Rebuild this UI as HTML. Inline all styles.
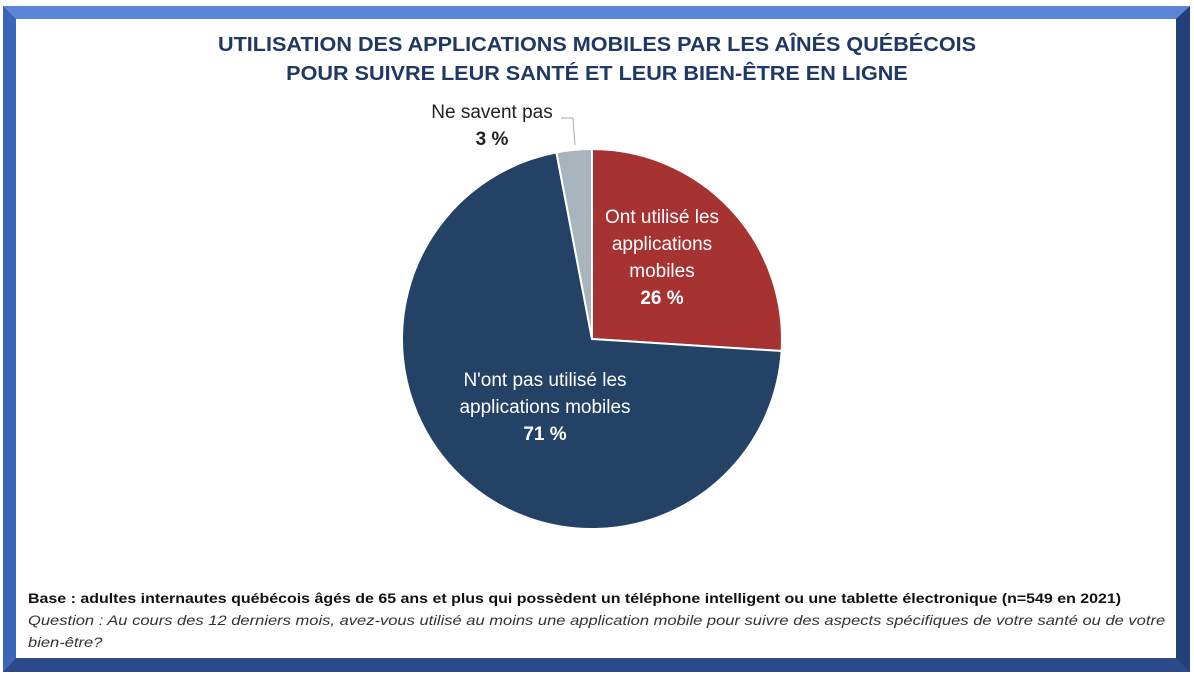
<!DOCTYPE html>
<html><head><meta charset="utf-8"><style>
body{margin:0;width:1194px;height:678px;background:#fff;position:relative;overflow:hidden;font-family:"Liberation Sans",sans-serif}
.frame{position:absolute;left:3px;top:6px;width:1160px;height:639px;border-style:solid;border-width:13px 14px 14px 13px;border-color:#5b86d6 #24407a #2a4a8a #3d66b8}
.t{position:absolute;left:0;width:1194px;text-align:center;font-weight:bold;color:#1f3864;font-size:20px;transform:scaleX(1.08)}
.f{position:absolute;left:28px;font-size:14px;color:#111;white-space:nowrap;transform-origin:0 0}
.l{position:absolute;text-align:center;font-size:19px;line-height:27px}
</style></head><body>
<div class="frame"></div>
<div class="t" style="top:34px">UTILISATION DES APPLICATIONS MOBILES PAR LES AÎNÉS QUÉBÉCOIS</div>
<div class="t" style="top:63px">POUR SUIVRE LEUR SANTÉ ET LEUR BIEN-ÊTRE EN LIGNE</div>
<svg width="1194" height="678" style="position:absolute;left:0;top:0">
<path d="M592,339 L592,149 A190,190 0 0 1 781.6,351 Z" fill="#a63232" stroke="#fff" stroke-width="2"/>
<path d="M592,339 L781.6,351 A190,190 0 1 1 556.4,152.4 Z" fill="#244166" stroke="#fff" stroke-width="2"/>
<path d="M592,339 L556.4,152.4 A190,190 0 0 1 592,149 Z" fill="#a7b4bd" stroke="#fff" stroke-width="2"/>
<polyline points="561,118 573,118 575,145" fill="none" stroke="#aaa" stroke-width="1"/>
</svg>
<div class="l" style="left:412px;top:99px;width:160px;color:#222">Ne savent pas<br><b>3 %</b></div>
<div class="l" style="left:577px;top:204px;width:170px;color:#fff">Ont utilisé les<br>applications<br>mobiles<br><b>26 %</b></div>
<div class="l" style="left:415px;top:367px;width:260px;color:#fff">N'ont pas utilisé les<br>applications mobiles<br><b>71 %</b></div>
<div class="f" style="top:590px;font-weight:bold;transform:scaleX(1.14)">Base : adultes internautes québécois âgés de 65 ans et plus qui possèdent un téléphone intelligent ou une tablette électronique (n=549 en 2021)</div>
<div class="f" style="top:612px;font-style:italic;color:#333;transform:scaleX(1.18)">Question : Au cours des 12 derniers mois, avez-vous utilisé au moins une application mobile pour suivre des aspects spécifiques de votre santé ou de votre</div>
<div class="f" style="top:634px;font-style:italic;color:#333;transform:scaleX(1.18)">bien-être?</div>
</body></html>
